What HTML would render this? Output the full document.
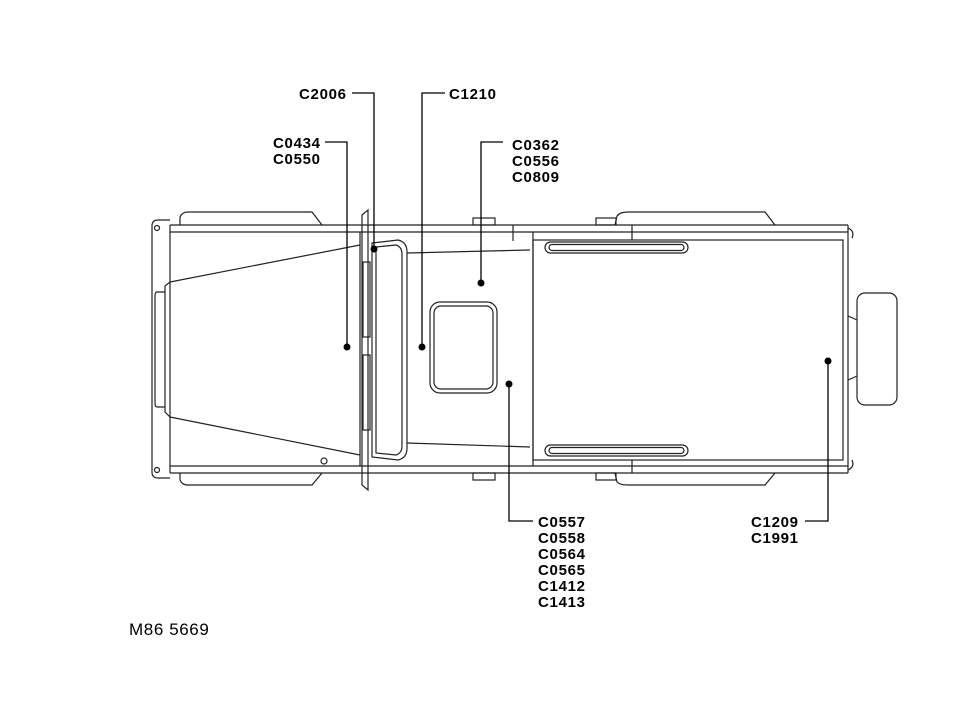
<!DOCTYPE html>
<html><head><meta charset="utf-8"><style>
html,body{margin:0;padding:0;background:#fff;}
svg{display:block;}
text{font-family:"Liberation Sans",Arial,sans-serif;font-weight:bold;font-size:15px;letter-spacing:0.7px;fill:#000;}
</style></head><body>
<svg width="960" height="720" viewBox="0 0 960 720" xmlns="http://www.w3.org/2000/svg">
<g fill="none" stroke="#222" stroke-width="1.2">
<path d="M180,225 L180,217 Q182,212 188,212 L312,212 L322,225"/>
<path d="M180,473 L180,480 Q182,485 188,485 L312,485 L322,473"/>
<path d="M615,225 L617,216 Q620,212 628,212 L765,212 L775,225"/>
<path d="M615,473 L617,482 Q620,485 628,485 L765,485 L775,473"/>
<path d="M170,220 L158,220 Q152,220 152,226 L152,472 Q152,478 158,478 L170,478"/>
<circle cx="157" cy="228" r="2.5"/><circle cx="157" cy="470" r="2.5"/>
<line x1="170" y1="225" x2="848" y2="225"/>
<line x1="170" y1="232" x2="848" y2="232"/>
<line x1="170" y1="466" x2="848" y2="466"/>
<line x1="170" y1="473" x2="848" y2="473"/>
<line x1="170" y1="225" x2="170" y2="473"/>
<line x1="848" y1="225" x2="848" y2="473"/>
<path d="M848,228 Q855,231 852,238"/><path d="M848,470 Q855,467 852,460"/>
<path d="M170,282 L360,245"/>
<path d="M170,417 L360,455"/>
<path d="M170,282 L165,286 L165,412 L170,417"/>
<path d="M165,292 L157,292 Q155,292 155,296 L155,403 Q155,407 157,407 L165,407"/>
<circle cx="324" cy="461" r="3"/>
<path d="M362,215 L368,210 L368,490 L362,485 Z"/>
<line x1="360" y1="232" x2="360" y2="466"/>
<path d="M372,243 L398,240 Q407,242 407,252 L407,448 Q407,458 398,460 L372,457 Z"/>
<path d="M376,247 L396,245 Q402,247 402,254 L402,446 Q402,453 396,455 L376,453 Z"/>
<rect x="363" y="262" width="7" height="75"/>
<rect x="363" y="355" width="7" height="75"/>
<path d="M407,253 L530,250"/><path d="M407,443 L530,447"/>
<line x1="533" y1="232" x2="533" y2="466"/>
<line x1="513" y1="225" x2="513" y2="241"/>
<rect x="430" y="302" width="67" height="91" rx="10"/>
<rect x="434" y="306" width="59" height="83" rx="7"/>
<rect x="473" y="218" width="22" height="7"/><rect x="473" y="473" width="22" height="7"/>
<rect x="596" y="218" width="20" height="7"/><rect x="596" y="473" width="20" height="7"/>
<rect x="533" y="240" width="310" height="220"/>
<line x1="632" y1="225" x2="632" y2="240"/><line x1="632" y1="460" x2="632" y2="473"/>
<rect x="545" y="242" width="143" height="11" rx="5.5"/>
<rect x="549" y="244.5" width="135" height="6" rx="3"/>
<rect x="545" y="445" width="143" height="11" rx="5.5"/>
<rect x="549" y="447.5" width="135" height="6" rx="3"/>
<path d="M848,316 L857,320"/><path d="M848,380 L857,376"/>
<rect x="857" y="293" width="40" height="112" rx="8"/>
</g>
<g fill="none" stroke="#000" stroke-width="1.3">
<polyline points="352,93 374,93 374,249"/>
<polyline points="325,142 347,142 347,347"/>
<polyline points="445,93 422,93 422,347"/>
<polyline points="503,142 481,142 481,283"/>
<polyline points="509,384 509,521 533,521"/>
<polyline points="805,521 828,521 828,361"/>
</g>
<g fill="#000">
<circle cx="374" cy="249" r="3.5"/><circle cx="347" cy="347" r="3.5"/>
<circle cx="422" cy="347" r="3.5"/><circle cx="481" cy="283" r="3.5"/>
<circle cx="509" cy="384" r="3.5"/><circle cx="828" cy="361" r="3.5"/>
</g>
<text x="299" y="99">C2006</text>
<text x="449" y="99">C1210</text>
<text x="273" y="148">C0434</text>
<text x="273" y="164">C0550</text>
<text x="512" y="150">C0362</text>
<text x="512" y="166">C0556</text>
<text x="512" y="182">C0809</text>
<text x="538" y="527">C0557</text>
<text x="538" y="543">C0558</text>
<text x="538" y="559">C0564</text>
<text x="538" y="575">C0565</text>
<text x="538" y="591">C1412</text>
<text x="538" y="607">C1413</text>
<text x="751" y="527">C1209</text>
<text x="751" y="543">C1991</text>
<text x="129" y="635" style="font-weight:normal;font-size:17px;letter-spacing:0.6px">M86 5669</text>
</svg>
</body></html>
